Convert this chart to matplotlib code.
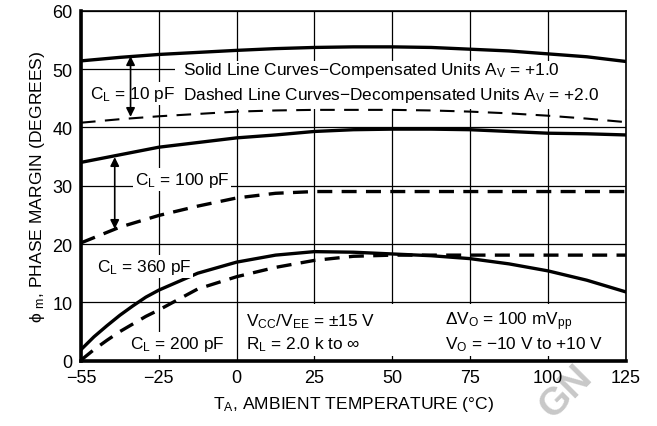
import numpy as np
import matplotlib
matplotlib.use("Agg")
import matplotlib.pyplot as plt
from matplotlib.patches import Rectangle

plt.rcParams['font.family'] = ['Liberation Sans Narrow', 'Liberation Sans', 'DejaVu Sans']
plt.rcParams['mathtext.fontset'] = 'custom'
plt.rcParams['mathtext.rm'] = 'Liberation Sans'
plt.rcParams['mathtext.it'] = 'Liberation Sans:italic'
plt.rcParams['mathtext.sf'] = 'Liberation Sans'

# ---- data ----
x_ticks = [-55, -25, 0, 25, 50, 75, 100, 125]
x_tick_labels = ['\u221255', '\u221225', '0', '25', '50', '75', '100', '125']
y_ticks = [0, 10, 20, 30, 40, 50, 60]

t_upper = [-55, -40, -25, 0, 12.5, 25, 37.5, 50, 62.5, 75, 87.5, 100, 112.5, 125]
solid_10pF = [51.4, 52.0, 52.5, 53.2, 53.5, 53.7, 53.8, 53.8, 53.7, 53.4, 53.1, 52.6, 52.1, 51.3]
dashed_10pF = [40.8, 41.4, 41.9, 42.7, 42.9, 43.0, 43.0, 43.0, 42.9, 42.7, 42.4, 42.0, 41.5, 40.9]
solid_100pF = [34.0, 35.3, 36.6, 38.2, 38.7, 39.3, 39.6, 39.7, 39.7, 39.6, 39.3, 39.0, 38.9, 38.7]

t_100d = [-55, -40, -25, -12.5, 0, 12.5, 25, 50, 75, 100, 125]
dashed_100pF = [20.2, 22.9, 24.9, 26.5, 27.9, 28.7, 29.0, 29.0, 29.0, 29.0, 29.0]

t_lower = [-55, -50, -45, -40, -35, -30, -25, -12.5, 0, 12.5, 25, 37.5, 50, 62.5, 75, 87.5,
           100, 112.5, 125]
solid_360pF = [1.9, 4.1, 6.0, 7.8, 9.4, 10.9, 12.1, 15.0, 16.9, 18.1, 18.7, 18.6, 18.3,
               18.0, 17.5, 16.6, 15.4, 13.8, 11.8]
dashed_200pF = [0.1, 1.9, 3.5, 5.0, 6.3, 7.6, 8.7, 12.3, 14.4, 16.0, 17.2, 17.9, 18.1,
                18.1, 18.1, 18.1, 18.1, 18.1, 18.1]

arrow_10pF = (-35.9, 52.2, 41.8)
arrow_100pF = (-42.0, 34.9, 22.6)

# ---- piecewise-linear temperature axis (-55..-25 spans same width as 25 deg) ----
def fwd(t):
    t = np.asarray(t, dtype=float)
    return np.where(t < -25, -25 + (t + 25) * 25.0 / 30.0, t)

def inv(p):
    p = np.asarray(p, dtype=float)
    return np.where(p < -25, -25 + (p + 25) * 30.0 / 25.0, p)

fig = plt.figure(figsize=(6.57, 4.27), dpi=100)
ax = fig.add_axes([0.1233, 0.1529, 0.9524 - 0.1233, 0.9726 - 0.1529])
ax.set_zorder(1)
ax.patch.set_facecolor('none')
ax.set_xscale('function', functions=(fwd, inv))
ax.set_xlim(-55, 125)
ax.set_ylim(0, 60)
ax.set_xticks(x_ticks)
ax.set_xticklabels(x_tick_labels)
ax.set_yticks(y_ticks)
ax.minorticks_off()
ax.tick_params(length=0, labelsize=13, pad=6)
ax.grid(True, color='black', lw=0.9, zorder=0.5)
ax.set_axisbelow(True)

for side in ['left', 'bottom']:
    ax.spines[side].set_linewidth(2.6)
for side in ['top', 'right']:
    ax.spines[side].set_linewidth(1.2)

# white background areas behind the annotation text
ax.add_patch(Rectangle((0.1726, 0.719), 0.83, 0.137, transform=ax.transAxes,
                       facecolor='white', edgecolor='none', zorder=0.8))
ax.add_patch(Rectangle((0.292, 0.014), 0.71, 0.148, transform=ax.transAxes,
                       facecolor='white', edgecolor='none', zorder=0.8))

lw = 2.4
ax.plot(t_upper, solid_10pF, color='black', lw=lw, zorder=2)
ax.plot(t_upper, dashed_10pF, color='black', lw=1.5, dashes=(7, 4.5), zorder=2)
ax.plot(t_upper, solid_100pF, color='black', lw=lw, zorder=2)
ax.plot(t_100d, dashed_100pF, color='black', lw=lw, dashes=(4.5, 2.8), zorder=2)
ax.plot(t_lower, solid_360pF, color='black', lw=lw, zorder=2)
ax.plot(t_lower, dashed_200pF, color='black', lw=lw, dashes=(4.5, 2.8), zorder=2)

for (xa, ytop, ybot) in [arrow_10pF, arrow_100pF]:
    ax.annotate('', xy=(xa, ytop), xytext=(xa, ybot),
                arrowprops=dict(arrowstyle='<|-|>', color='black', lw=1.2,
                                mutation_scale=13, shrinkA=0, shrinkB=0),
                zorder=4)

fs = 12.4
box = dict(facecolor='white', edgecolor='none', pad=1.5)
ax.text(-17.2, 50.0, r'Solid Line Curves$\mathrm{-}$Compensated Units A$_{\mathrm{V}}$ = +1.0',
        fontsize=fs, va='center', ha='left', zorder=3)
ax.text(-17.2, 45.6, r'Dashed Line Curves$\mathrm{-}$Decompensated Units A$_{\mathrm{V}}$ = +2.0',
        fontsize=fs, va='center', ha='left', zorder=3)
ax.text(-51.5, 45.8, r'C$_{\mathrm{L}}$ = 10 pF', fontsize=fs, va='center', ha='left',
        zorder=3, bbox=box)
ax.text(-34.2, 31.0, r'C$_{\mathrm{L}}$ = 100 pF', fontsize=fs, va='center', ha='left',
        zorder=3, bbox=box)
ax.text(-48.9, 16.2, r'C$_{\mathrm{L}}$ = 360 pF', fontsize=fs, va='center', ha='left',
        zorder=3, bbox=box)
ax.text(-36.1, 2.9, r'C$_{\mathrm{L}}$ = 200 pF', fontsize=fs, va='center', ha='left',
        zorder=3, bbox=box)
ax.text(3.0, 6.8, r'V$_{\mathrm{CC}}$/V$_{\mathrm{EE}}$ = $\pm$15 V', fontsize=fs,
        va='center', ha='left', zorder=3)
ax.text(3.0, 2.9, r'R$_{\mathrm{L}}$ = 2.0 k to $\infty$', fontsize=fs,
        va='center', ha='left', zorder=3)
ax.text(66.9, 6.8, r'$\Delta$V$_{\mathrm{O}}$ = 100 mV$_{\mathrm{pp}}$', fontsize=fs,
        va='center', ha='left', zorder=3)
ax.text(66.9, 2.9, 'V$_{\\mathrm{O}}$ = \u221210 V to +10 V', fontsize=fs,
        va='center', ha='left', zorder=3)

ax.set_xlabel(r'T$_{\mathrm{A}}$, AMBIENT TEMPERATURE ($\degree$C)', fontsize=12.6, labelpad=6)
ax.set_ylabel(r'$\mathrm{\phi}$ $_{\mathrm{m}}$, PHASE MARGIN (DEGREES)', fontsize=12.6, labelpad=4)

fig.text(0.862, 0.082, 'GN', rotation=45, color='#c8c8c8', fontsize=28,
         fontweight='bold', ha='center', va='center', zorder=0.5)

fig.savefig('out.png', dpi=100)
